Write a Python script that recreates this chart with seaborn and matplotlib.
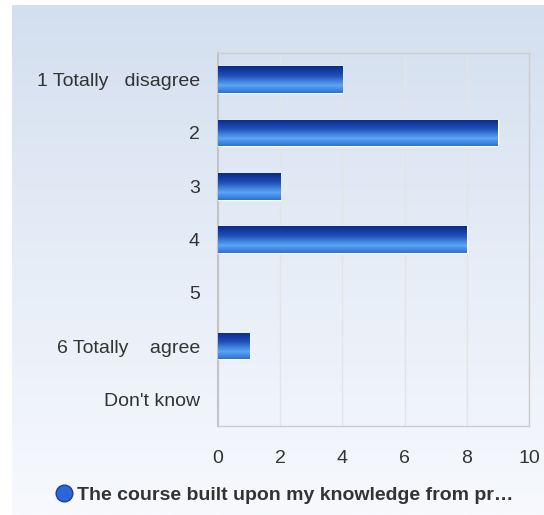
import numpy as np
import pandas as pd
import matplotlib
matplotlib.use("Agg")
import matplotlib.pyplot as plt
import seaborn as sns
from matplotlib.colors import LinearSegmentedColormap
from matplotlib.lines import Line2D

# data
categories = ["1 Totally   disagree", "2", "3", "4", "5", "6 Totally    agree", "Don't know"]
counts = [4, 9, 2, 8, 0, 1, 0]
x_ticks = [0, 2, 4, 6, 8, 10]
series_name = "The course built upon my knowledge from pr\u2026"

df = pd.DataFrame({"answer": categories, "count": counts})

sns.set_theme(style="white")
plt.rcParams["font.family"] = ["Liberation Sans", "DejaVu Sans"]

fig = plt.figure(figsize=(5.44, 5.15), dpi=100)
fig.patch.set_facecolor("white")

# background gradient panel
bg = fig.add_axes([12 / 544, 0, 532 / 544, 510 / 515], zorder=0)
bg_cmap = LinearSegmentedColormap.from_list("bg", ["#d3dfef", "#e6edf7", "#f7f9fd"])
bg.imshow(np.linspace(0, 1, 256).reshape(-1, 1), aspect="auto", cmap=bg_cmap,
          extent=[0, 1, 0, 1])
bg.set_axis_off()

ax = fig.add_axes([218 / 544, 1 - 426 / 515, 311 / 544, 373 / 515], zorder=1)
ax.patch.set_alpha(0)

sns.barplot(data=df, x="count", y="answer", ax=ax, width=0.5,
            color="#2f6fd0", edgecolor="white", linewidth=1, zorder=3)

# vertical gradient on each bar
bar_cmap = LinearSegmentedColormap.from_list(
    "bar", [(0, "#0b2a88"), (0.35, "#1f4fb8"), (0.72, "#5aa6f6"), (1, "#2f70d2")])
grad = np.linspace(0, 1, 64).reshape(-1, 1)
for p in ax.patches:
    w = p.get_width()
    if w <= 0:
        p.set_linewidth(0)
        continue
    x0, y0 = p.get_x(), p.get_y()
    h = p.get_height()
    im = ax.imshow(grad, aspect="auto", cmap=bar_cmap,
                   extent=[x0, x0 + w, y0 + h, y0], zorder=3.5,
                   interpolation="bilinear")
    im.set_clip_path(p)

ax.set_xlim(0, 10)
ax.set_ylim(6.5, -0.5)
ax.set_xticks(x_ticks)
ax.set_xticklabels([str(t) for t in x_ticks])
ax.xaxis.grid(True, color="#e4e4e4", linewidth=1)
ax.set_axisbelow(True)
ax.set_xlabel("")
ax.set_ylabel("")
for s in ax.spines.values():
    s.set_color("#cccccc")
    s.set_linewidth(1)
ax.spines["left"].set_color("#c4c4c4")
ax.spines["left"].set_linewidth(1.5)
ax.tick_params(axis="y", length=0, pad=13, labelsize=14, labelcolor="#333333")
ax.tick_params(axis="x", length=0, pad=17, labelsize=14, labelcolor="#333333")

# legend
handle = Line2D([], [], marker="o", linestyle="", markersize=12,
                markerfacecolor="#2a66d6", markeredgecolor="#1a3f9e")
fig.legend([handle], [series_name], loc="center", bbox_to_anchor=(283 / 544, 1 - 495 / 515),
           frameon=False, handletextpad=0.1, handlelength=1.2, borderaxespad=0,
           prop={"weight": "bold", "size": 14}, labelcolor="#333333")

fig.savefig("out.png", dpi=100)
